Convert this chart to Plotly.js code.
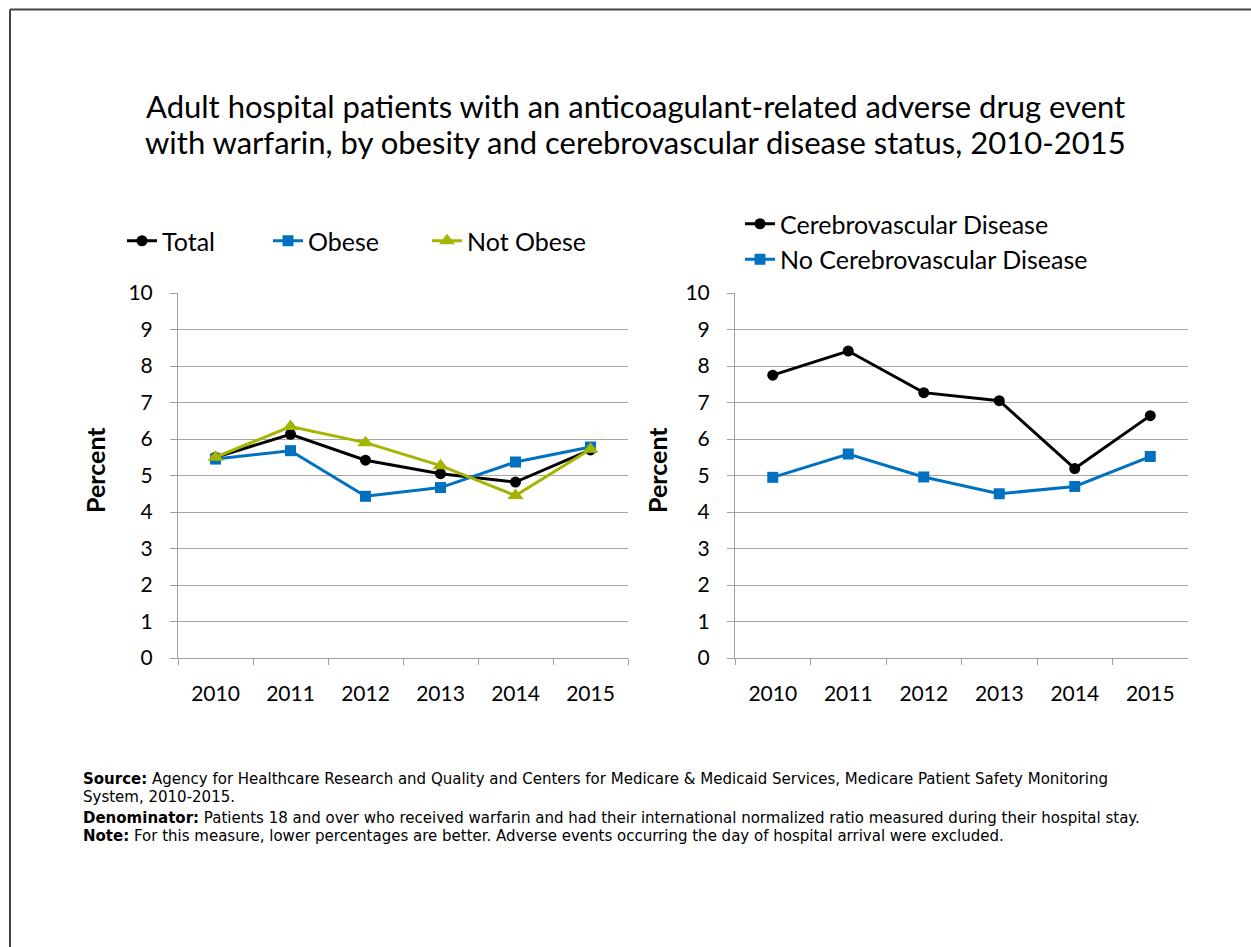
<!DOCTYPE html>
<html>
<head>
<meta charset="utf-8">
<script src="https://cdn.plot.ly/plotly-3.0.1.min.js"></script>
<style>
html,body{margin:0;padding:0;background:#fff;}
#chart{width:1251px;height:947px;}
</style>
</head>
<body>
<div id="chart"></div>
<script>
var years = ["2010","2011","2012","2013","2014","2015"];
var total = [5.50, 6.13, 5.42, 5.05, 4.82, 5.70];
var obese = [5.45, 5.68, 4.43, 4.67, 5.37, 5.78];
var notObese = [5.50, 6.34, 5.90, 5.27, 4.45, 5.72];
var cvd = [7.75, 8.41, 7.27, 7.05, 5.19, 6.64];
var noCvd = [4.95, 5.59, 4.96, 4.50, 4.70, 5.52];
var yTicks = [0,1,2,3,4,5,6,7,8,9,10];

var W = 1251, H = 947;
function px(x){return x/W;}
function py(y){return 1 - y/H;}

var FONT = "Lato, 'Open Sans', sans-serif";
var BLACK = "#000000", BLUE = "#0070C0", OLIVE = "#A5B400";

var traces = [
  {x: years, y: total, name: "Total", type: "scatter", mode: "lines+markers",
   line: {color: BLACK, width: 3}, marker: {symbol: "circle", size: 11, color: BLACK},
   xaxis: "x", yaxis: "y", legend: "legend"},
  {x: years, y: obese, name: "Obese", type: "scatter", mode: "lines+markers",
   line: {color: BLUE, width: 3}, marker: {symbol: "square", size: 11, color: BLUE},
   xaxis: "x", yaxis: "y", legend: "legend3"},
  {x: years, y: notObese, name: "Not Obese", type: "scatter", mode: "lines+markers",
   line: {color: OLIVE, width: 3}, marker: {symbol: "triangle-up", size: 14, color: OLIVE},
   xaxis: "x", yaxis: "y", legend: "legend4"},
  {x: years, y: cvd, name: "Cerebrovascular Disease", type: "scatter", mode: "lines+markers",
   line: {color: BLACK, width: 3}, marker: {symbol: "circle", size: 11, color: BLACK},
   xaxis: "x2", yaxis: "y2", legend: "legend2"},
  {x: years, y: noCvd, name: "No Cerebrovascular Disease", type: "scatter", mode: "lines+markers",
   line: {color: BLUE, width: 3}, marker: {symbol: "square", size: 11, color: BLUE},
   xaxis: "x2", yaxis: "y2", legend: "legend2"}
];

function xAxis(d0, d1, anchor){
  return {domain: [d0, d1], anchor: anchor, type: "category", range: [-0.5, 5.5],
    showgrid: false, zeroline: false, showline: true, linecolor: "#A0A0A0", linewidth: 1,
    ticks: "outside", tickson: "boundaries", ticklen: 6, tickcolor: "#A0A0A0",
    ticklabelstandoff: 17,
    tickfont: {family: FONT, size: 21, color: "#000"}, fixedrange: true};
}
function yAxis(anchor){
  return {domain: [py(658), py(293)], anchor: anchor, range: [0, 10],
    tickvals: yTicks, ticktext: yTicks.map(String),
    showgrid: true, gridcolor: "#A6A6A6", gridwidth: 1, zeroline: false,
    showline: true, linecolor: "#A0A0A0", linewidth: 1,
    ticks: "outside", ticklen: 7, tickcolor: "#A0A0A0", ticklabelstandoff: 13,
    tickfont: {family: FONT, size: 21, color: "#000"}, fixedrange: true};
}

var noteFont = {family: "'DejaVu Sans', sans-serif", size: 15, color: "#000"};
var titleFont = {family: FONT, size: 31, color: "#000"};
var legFont = {family: FONT, size: 25, color: "#000"};

function hLegend(x){
  return {x: px(x), y: py(241), xanchor: "left", yanchor: "middle", orientation: "h",
    font: legFont, bgcolor: "rgba(0,0,0,0)", itemwidth: 30, tracegroupgap: 0};
}

var layout = {
  width: W, height: H,
  margin: {l: 0, r: 0, t: 0, b: 0},
  paper_bgcolor: "#fff", plot_bgcolor: "#fff",
  showlegend: true,
  xaxis: xAxis(px(178), px(628), "y"),
  yaxis: yAxis("x"),
  xaxis2: xAxis(px(735), px(1188), "y2"),
  yaxis2: yAxis("x2"),
  legend: hLegend(122),
  legend3: hLegend(268),
  legend4: hLegend(427),
  legend2: {x: px(740), y: py(201), xanchor: "left", yanchor: "top", orientation: "v",
    font: legFont, bgcolor: "rgba(0,0,0,0)", itemwidth: 30, tracegroupgap: 0},
  annotations: [
    {text: "Adult hospital patients with an anticoagulant-related adverse drug event",
     x: px(636), y: py(106), xref: "paper", yref: "paper", xanchor: "center", yanchor: "middle",
     showarrow: false, font: titleFont},
    {text: "with warfarin, by obesity and cerebrovascular disease status, 2010-2015",
     x: px(636), y: py(142), xref: "paper", yref: "paper", xanchor: "center", yanchor: "middle",
     showarrow: false, font: titleFont},
    {text: "<b>Percent</b>", x: px(95), y: py(470), xref: "paper", yref: "paper",
     xanchor: "center", yanchor: "middle", textangle: -90, showarrow: false,
     font: {family: FONT, size: 25, color: "#000"}},
    {text: "<b>Percent</b>", x: px(657), y: py(470), xref: "paper", yref: "paper",
     xanchor: "center", yanchor: "middle", textangle: -90, showarrow: false,
     font: {family: FONT, size: 25, color: "#000"}},
    {text: "<b>Source:</b> Agency for Healthcare Research and Quality and Centers for Medicare & Medicaid Services, Medicare Patient Safety Monitoring",
     x: px(81), y: py(779), xref: "paper", yref: "paper", xanchor: "left", yanchor: "middle",
     showarrow: false, align: "left", font: noteFont},
    {text: "System, 2010-2015.",
     x: px(81), y: py(797), xref: "paper", yref: "paper", xanchor: "left", yanchor: "middle",
     showarrow: false, align: "left", font: noteFont},
    {text: "<b>Denominator:</b> Patients 18 and over who received warfarin and had their international normalized ratio measured during their hospital stay.",
     x: px(81), y: py(818), xref: "paper", yref: "paper", xanchor: "left", yanchor: "middle",
     showarrow: false, align: "left", font: noteFont},
    {text: "<b>Note:</b> For this measure, lower percentages are better. Adverse events occurring the day of hospital arrival were excluded.",
     x: px(81), y: py(836), xref: "paper", yref: "paper", xanchor: "left", yanchor: "middle",
     showarrow: false, align: "left", font: noteFont}
  ],
  shapes: [
    {type: "line", xref: "paper", yref: "paper", x0: px(10), x1: 1, y0: py(9.5), y1: py(9.5),
     line: {color: "#444", width: 2}},
    {type: "line", xref: "paper", yref: "paper", x0: px(10), x1: px(10), y0: py(9.5), y1: 0,
     line: {color: "#444", width: 2}}
  ]
};

Plotly.newPlot("chart", traces, layout, {displayModeBar: false, staticPlot: true});
</script>
</body>
</html>
